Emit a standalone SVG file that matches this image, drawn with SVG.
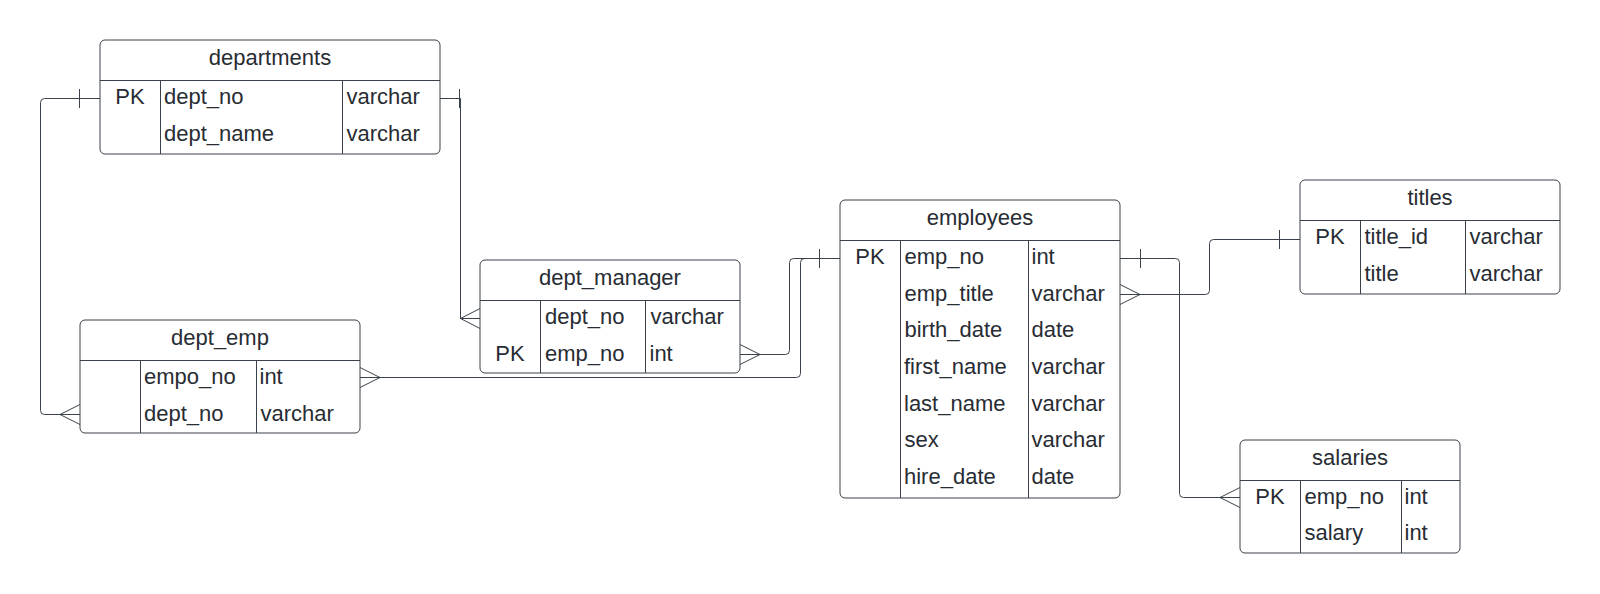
<svg xmlns="http://www.w3.org/2000/svg" width="1600" height="594" viewBox="0 0 1600 594">
<style>
.box{fill:#ffffff;stroke:#3a414a;stroke-width:1}
.div{stroke:#3a414a;stroke-width:1;fill:none}
.conn{stroke:#3a414a;stroke-width:1;fill:none}
text{font-family:"Liberation Sans",Arial,sans-serif;font-size:22px;fill:#282c33}
.h{text-anchor:middle}
.pk{text-anchor:middle}
</style>
<rect width="1600" height="594" fill="#ffffff"/>
<g id="connectors">
  <!-- departments.dept_no -> dept_emp.dept_no -->
  <path class="conn" d="M100,98.5 H44.5 Q40.5,98.5 40.5,102.5 V410.5 Q40.5,414.5 44.5,414.5 H80"/>
  <path class="conn" d="M79.5,89 V108"/>
  <path class="conn" d="M80,404.5 L60,414.5 L80,424.5"/>
  <!-- departments.dept_no -> dept_manager.dept_no -->
  <path class="conn" d="M440,98.5 H460.5 V318.5 H480"/>
  <path class="conn" d="M459.5,89 V108"/>
  <path class="conn" d="M480,308.5 L460.5,318.5 L480,328.5"/>
  <!-- dept_emp.empo_no -> employees.emp_no -->
  <path class="conn" d="M360,377.5 H796.5 Q800.5,377.5 800.5,373.5 V262.5 Q800.5,258.5 804.5,258.5 H840"/>
  <path class="conn" d="M360,367.5 L380,377.5 L360,387.5"/>
  <!-- dept_manager.emp_no -> employees.emp_no -->
  <path class="conn" d="M740,354.5 H785.5 Q789.5,354.5 789.5,350.5 V262.5 Q789.5,258.5 793.5,258.5 H840"/>
  <path class="conn" d="M740,344.5 L760,354.5 L740,364.5"/>
  <path class="conn" d="M819.5,249 V268"/>
  <!-- employees.emp_no -> salaries.emp_no -->
  <path class="conn" d="M1120,258.5 H1175.5 Q1179.5,258.5 1179.5,262.5 V493.5 Q1179.5,497.5 1183.5,497.5 H1240"/>
  <path class="conn" d="M1140.5,249 V268"/>
  <path class="conn" d="M1240,487.5 L1220,497.5 L1240,507.5"/>
  <!-- employees.emp_title -> titles.title_id -->
  <path class="conn" d="M1120,294.5 H1205.5 Q1209.5,294.5 1209.5,290.5 V243.5 Q1209.5,239.5 1213.5,239.5 H1300"/>
  <path class="conn" d="M1120,284.5 L1140,294.5 L1120,304.5"/>
  <path class="conn" d="M1279.5,230 V249"/>
</g>
<g id="departments">
  <rect class="box" x="100" y="40" width="340" height="114" rx="5"/>
  <path class="div" d="M100,80.5 H440 M160.5,80.5 V154 M342.5,80.5 V154"/>
  <text class="h" x="270" y="64.5">departments</text>
  <text class="pk" x="130" y="104">PK</text>
  <text x="164" y="104">dept_no</text>
  <text x="346.5" y="104">varchar</text>
  <text x="164" y="140.7">dept_name</text>
  <text x="346.5" y="140.7">varchar</text>
</g>
<g id="dept_emp">
  <rect class="box" x="80" y="320" width="280" height="113" rx="5"/>
  <path class="div" d="M80,360.5 H360 M140.5,360.5 V433 M256.5,360.5 V433"/>
  <text class="h" x="220" y="344.5">dept_emp</text>
  <text x="144" y="384">empo_no</text>
  <text x="259.5" y="384">int</text>
  <text x="144" y="420.7">dept_no</text>
  <text x="260.5" y="420.7">varchar</text>
</g>
<g id="dept_manager">
  <rect class="box" x="480" y="260" width="260" height="113" rx="5"/>
  <path class="div" d="M480,300.5 H740 M540.5,300.5 V373 M645.5,300.5 V373"/>
  <text class="h" x="610" y="284.5">dept_manager</text>
  <text x="545" y="324">dept_no</text>
  <text x="650.5" y="324">varchar</text>
  <text class="pk" x="510" y="360.7">PK</text>
  <text x="545" y="360.7">emp_no</text>
  <text x="649.5" y="360.7">int</text>
</g>
<g id="employees">
  <rect class="box" x="840" y="200" width="280" height="298" rx="5"/>
  <path class="div" d="M840,240.5 H1120 M900.5,240.5 V498 M1028.5,240.5 V498"/>
  <text class="h" x="980" y="224.5">employees</text>
  <text class="pk" x="870" y="264">PK</text>
  <text x="904.5" y="264">emp_no</text>
  <text x="1031.5" y="264">int</text>
  <text x="904.5" y="300.7">emp_title</text>
  <text x="1031.5" y="300.7">varchar</text>
  <text x="904.5" y="337.3">birth_date</text>
  <text x="1031.5" y="337.3">date</text>
  <text x="904" y="374">first_name</text>
  <text x="1031.5" y="374">varchar</text>
  <text x="904" y="410.7">last_name</text>
  <text x="1031.5" y="410.7">varchar</text>
  <text x="904.5" y="447.3">sex</text>
  <text x="1031.5" y="447.3">varchar</text>
  <text x="904" y="484">hire_date</text>
  <text x="1031.5" y="484">date</text>
</g>
<g id="titles">
  <rect class="box" x="1300" y="180" width="260" height="114" rx="5"/>
  <path class="div" d="M1300,220.5 H1560 M1360.5,220.5 V294 M1465.5,220.5 V294"/>
  <text class="h" x="1430" y="204.5">titles</text>
  <text class="pk" x="1330" y="244">PK</text>
  <text x="1364.5" y="244">title_id</text>
  <text x="1469.5" y="244">varchar</text>
  <text x="1364.5" y="280.7">title</text>
  <text x="1469.5" y="280.7">varchar</text>
</g>
<g id="salaries">
  <rect class="box" x="1240" y="440" width="220" height="113" rx="5"/>
  <path class="div" d="M1240,480.5 H1460 M1300.5,480.5 V553 M1401.5,480.5 V553"/>
  <text class="h" x="1350" y="464.5">salaries</text>
  <text class="pk" x="1270" y="503.5">PK</text>
  <text x="1304.5" y="503.5">emp_no</text>
  <text x="1404.5" y="503.5">int</text>
  <text x="1304.5" y="540">salary</text>
  <text x="1404.5" y="540">int</text>
</g>
</svg>
